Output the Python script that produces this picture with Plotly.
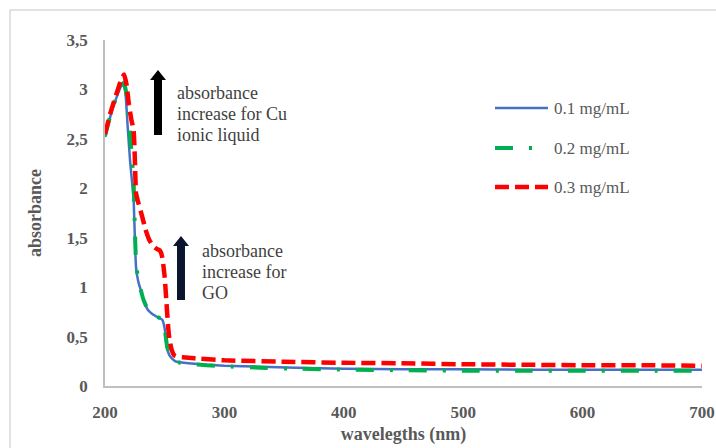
import plotly.graph_objects as go

# ---- data ----
wl_01 = [200, 205, 210, 213, 215, 217, 219, 221, 223, 224, 225, 226, 228, 230, 232, 236, 242, 248, 250, 252, 254, 256, 259, 263, 270, 285, 300, 330, 360, 400, 450, 500, 550, 600, 650, 700]
abs_01 = [2.52, 2.75, 2.93, 3.02, 3.06, 2.98, 2.62, 2.28, 2.02, 1.88, 1.5, 1.2, 1.05, 0.97, 0.88, 0.77, 0.71, 0.67, 0.58, 0.38, 0.31, 0.28, 0.25, 0.24, 0.23, 0.215, 0.205, 0.195, 0.185, 0.175, 0.17, 0.17, 0.165, 0.165, 0.165, 0.165]

wl_02 = [200, 205, 210, 213, 216, 218, 220, 222, 224, 225, 226, 228, 230, 232, 236, 242, 248, 250, 252, 254, 256, 259, 263, 270, 285, 300, 330, 360, 400, 450, 500, 550, 600, 650, 700]
abs_02 = [2.53, 2.76, 2.94, 3.03, 3.07, 2.95, 2.7, 2.4, 2.05, 1.6, 1.25, 1.06, 0.97, 0.88, 0.77, 0.71, 0.67, 0.58, 0.4, 0.32, 0.28, 0.25, 0.235, 0.225, 0.21, 0.2, 0.185, 0.175, 0.165, 0.16, 0.155, 0.155, 0.155, 0.155, 0.155]

wl_03 = [200, 205, 210, 213, 216, 218, 220, 222, 224, 225, 226, 228, 231, 234, 237, 240, 243, 246, 248, 250, 252, 253, 254, 256, 258, 261, 265, 270, 280, 300, 350, 400, 450, 500, 550, 600, 650, 700]
abs_03 = [2.55, 2.78, 2.97, 3.08, 3.15, 3.05, 2.85, 2.7, 2.58, 2.3, 1.95, 1.85, 1.72, 1.58, 1.48, 1.42, 1.39, 1.37, 1.3, 1.1, 0.75, 0.58, 0.47, 0.36, 0.31, 0.295, 0.29, 0.285, 0.275, 0.26, 0.245, 0.235, 0.23, 0.22, 0.215, 0.21, 0.21, 0.205]

series_names = ["0.1 mg/mL", "0.2 mg/mL", "0.3 mg/mL"]
y_ticks = [0, 0.5, 1, 1.5, 2, 2.5, 3, 3.5]
y_ticktext = ["0", "0,5", "1", "1,5", "2", "2,5", "3", "3,5"]
x_ticks = [200, 300, 400, 500, 600, 700]

# ---- layout geometry (pixels) ----
W, H = 716, 448
L, R, T, B = 105, 14, 40, 62
PW, PH = W - L - R, H - T - B

def px(x):
    return (x - L) / PW

def py(y):
    return (H - B - y) / PH

SERIF = "Liberation Serif"
GRAY = "#595959"

styles = [
    dict(color="#4472C4", width=2.5, dash="solid"),
    dict(color="#00B050", width=4, dash="18px,16px,3px,16px"),
    dict(color="#FF0000", width=4.5, dash="14px,6px"),
]

fig = go.Figure()
for wl, ab, name, st in zip([wl_01, wl_02, wl_03], [abs_01, abs_02, abs_03], series_names, styles):
    fig.add_trace(go.Scatter(x=wl, y=ab, mode="lines", name=name, line=dict(shape="spline", smoothing=0.4, **st), showlegend=False))

shapes = []
annotations = []

# outer chart border
shapes.append(dict(type="rect", xref="paper", yref="paper", x0=px(10), x1=px(730), y0=py(460), y1=py(10),
                   line=dict(color="#D9D9D9", width=1.5), fillcolor="rgba(0,0,0,0)", layer="below"))

# manual legend
leg_y = [108, 148, 187]
for name, st, yy in zip(series_names, styles, leg_y):
    shapes.append(dict(type="line", xref="paper", yref="paper", x0=px(495), x1=px(548), y0=py(yy), y1=py(yy),
                       line=dict(color=st["color"], width=st["width"], dash=st["dash"])))
    annotations.append(dict(xref="paper", yref="paper", x=px(552), y=py(yy), text=name, showarrow=False,
                            xanchor="left", yanchor="middle", font=dict(family=SERIF, size=17, color=GRAY)))

# arrows
def arrow(xc, tip, base, bottom, shaft_w, head_w, color):
    sw, hw = shaft_w / 2, head_w / 2
    pts = [(xc - sw, bottom), (xc - sw, base), (xc - hw, base), (xc, tip), (xc + hw, base), (xc + sw, base), (xc + sw, bottom)]
    path = "M " + " L ".join(f"{px(a):.5f},{py(b):.5f}" for a, b in pts) + " Z"
    shapes.append(dict(type="path", xref="paper", yref="paper", path=path, fillcolor=color, line=dict(color=color, width=0)))

arrow(158, 70, 80, 135, 8, 16, "#000000")
arrow(181, 236, 246, 300, 8, 16, "#0b1530")

# annotation text blocks
for lines, x0, y0 in [(["absorbance", "increase for Cu", "ionic liquid"], 175, 93),
                      (["absorbance", "increase for", "GO"], 200, 251)]:
    for i, t in enumerate(lines):
        annotations.append(dict(xref="paper", yref="paper", x=px(x0), y=py(y0 + 21 * i), text=t, showarrow=False,
                                xanchor="left", yanchor="middle", font=dict(family=SERIF, size=18, color="#3F3F3F")))

fig.update_layout(
    width=W, height=H,
    margin=dict(l=L, r=R, t=T, b=B, autoexpand=False),
    paper_bgcolor="white", plot_bgcolor="white",
    shapes=shapes, annotations=annotations,
    showlegend=False,
)
fig.update_xaxes(range=[200, 700], tickvals=x_ticks, showgrid=False, zeroline=False, automargin=False,
                 showline=True, linecolor="#BFBFBF", linewidth=1.5, ticks="", ticklabelstandoff=10,
                 tickfont=dict(family=SERIF, size=17, color=GRAY, weight="bold"),
                 title=dict(text="<b>wavelegths (nm)</b>", standoff=6, font=dict(family=SERIF, size=18, color=GRAY)))
fig.update_yaxes(range=[0, 3.5], tickvals=y_ticks, ticktext=y_ticktext, showgrid=False, zeroline=False, automargin=False,
                 showline=True, linecolor="#BFBFBF", linewidth=1.5, ticks="", ticklabelstandoff=12,
                 tickfont=dict(family=SERIF, size=17, color=GRAY, weight="bold"),
                 title=dict(text="<b>absorbance</b>", standoff=20, font=dict(family=SERIF, size=18, color=GRAY)))

fig.write_html("out.html", config={"displayModeBar": False},
               post_script="document.body.style.margin='0px';document.body.style.overflow='hidden';")
